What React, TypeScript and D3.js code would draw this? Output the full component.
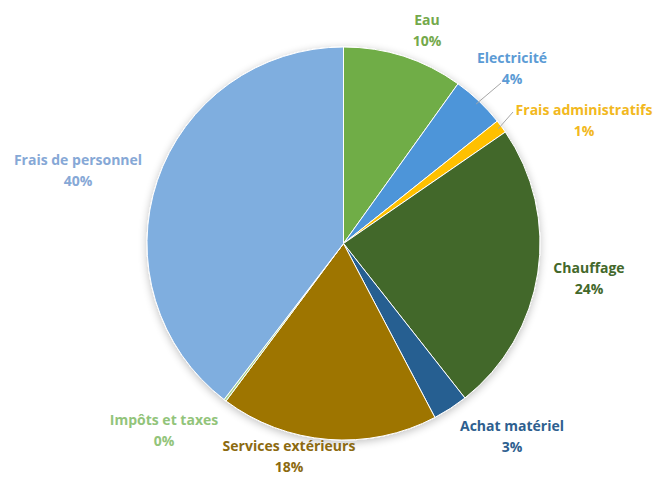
import React from "react";
import * as d3 from "d3";

const categories = [
  "Eau",
  "Electricité",
  "Frais administratifs",
  "Chauffage",
  "Achat matériel",
  "Services extérieurs",
  "Impôts et taxes",
  "Frais de personnel",
];
const values = [9.9, 4.4, 1.1, 24.0, 2.9, 17.9, 0.2, 39.6];
const percentLabels = ["10%", "4%", "1%", "24%", "3%", "18%", "0%", "40%"];
const sliceColors = ["#70AD47", "#4E95D9", "#FFC000", "#43682B", "#255E91", "#9E7400", "#A9D18E", "#7FAEDF"];
const labelColors = ["#74A94B", "#5B9BD5", "#F2B820", "#43682B", "#2E5F8F", "#8C6A10", "#92C47A", "#86A8D6"];

const W = 655;
const H = 479;
const cx = 343.5;
const cy = 243.5;
const R = 196.5;

// label anchor positions (center of label block, name line baseline)
const labelPos: [number, number][] = [
  [427, 25],
  [512, 63],
  [584, 115],
  [589, 273],
  [512, 431],
  [289, 451],
  [164, 425],
  [78, 165],
];

const leaderLines: { idx: number; to: [number, number] }[] = [
  { idx: 1, to: [501, 83] },
  { idx: 2, to: [513, 112] },
];

export default function App() {
  const pie = d3
    .pie<number>()
    .sort(null)
    .value((d) => d)
    .startAngle(0)
    .endAngle(2 * Math.PI);
  const arcs = pie(values);
  const arc = d3.arc<d3.PieArcDatum<number>>().innerRadius(0).outerRadius(R);

  return (
    <svg
      width={W}
      height={H}
      style={{ position: "absolute", left: 0, top: 0, background: "#fff" }}
      fontFamily="'Open Sans', Lato, sans-serif"
    >
      <defs>
        <filter id="sh" x="-20%" y="-20%" width="140%" height="140%">
          <feGaussianBlur in="SourceAlpha" stdDeviation="4" />
          <feOffset dx="0" dy="2" result="b" />
          <feComponentTransfer>
            <feFuncA type="linear" slope="0.25" />
          </feComponentTransfer>
          <feMerge>
            <feMergeNode />
            <feMergeNode in="SourceGraphic" />
          </feMerge>
        </filter>
      </defs>
      <g transform={`translate(${cx},${cy})`} filter="url(#sh)">
        {arcs.map((a, i) => (
          <path key={i} d={arc(a) || ""} fill={sliceColors[i]} stroke="#ffffff" strokeWidth={1} />
        ))}
      </g>
      {leaderLines.map((l, k) => {
        const a = arcs[l.idx];
        const mid = (a.startAngle + a.endAngle) / 2;
        const x1 = cx + Math.sin(mid) * (R - 4);
        const y1 = cy - Math.cos(mid) * (R - 4);
        return (
          <line key={k} x1={x1} y1={y1} x2={l.to[0]} y2={l.to[1]} stroke="#a6a6a6" strokeWidth={1} />
        );
      })}
      {categories.map((c, i) => (
        <text
          key={c}
          x={labelPos[i][0]}
          y={labelPos[i][1]}
          textAnchor="middle"
          fill={labelColors[i]}
          fontSize={14}
          fontWeight="bold"
        >
          <tspan x={labelPos[i][0]}>{c}</tspan>
          <tspan x={labelPos[i][0]} dy={21}>
            {percentLabels[i]}
          </tspan>
        </text>
      ))}
    </svg>
  );
}
